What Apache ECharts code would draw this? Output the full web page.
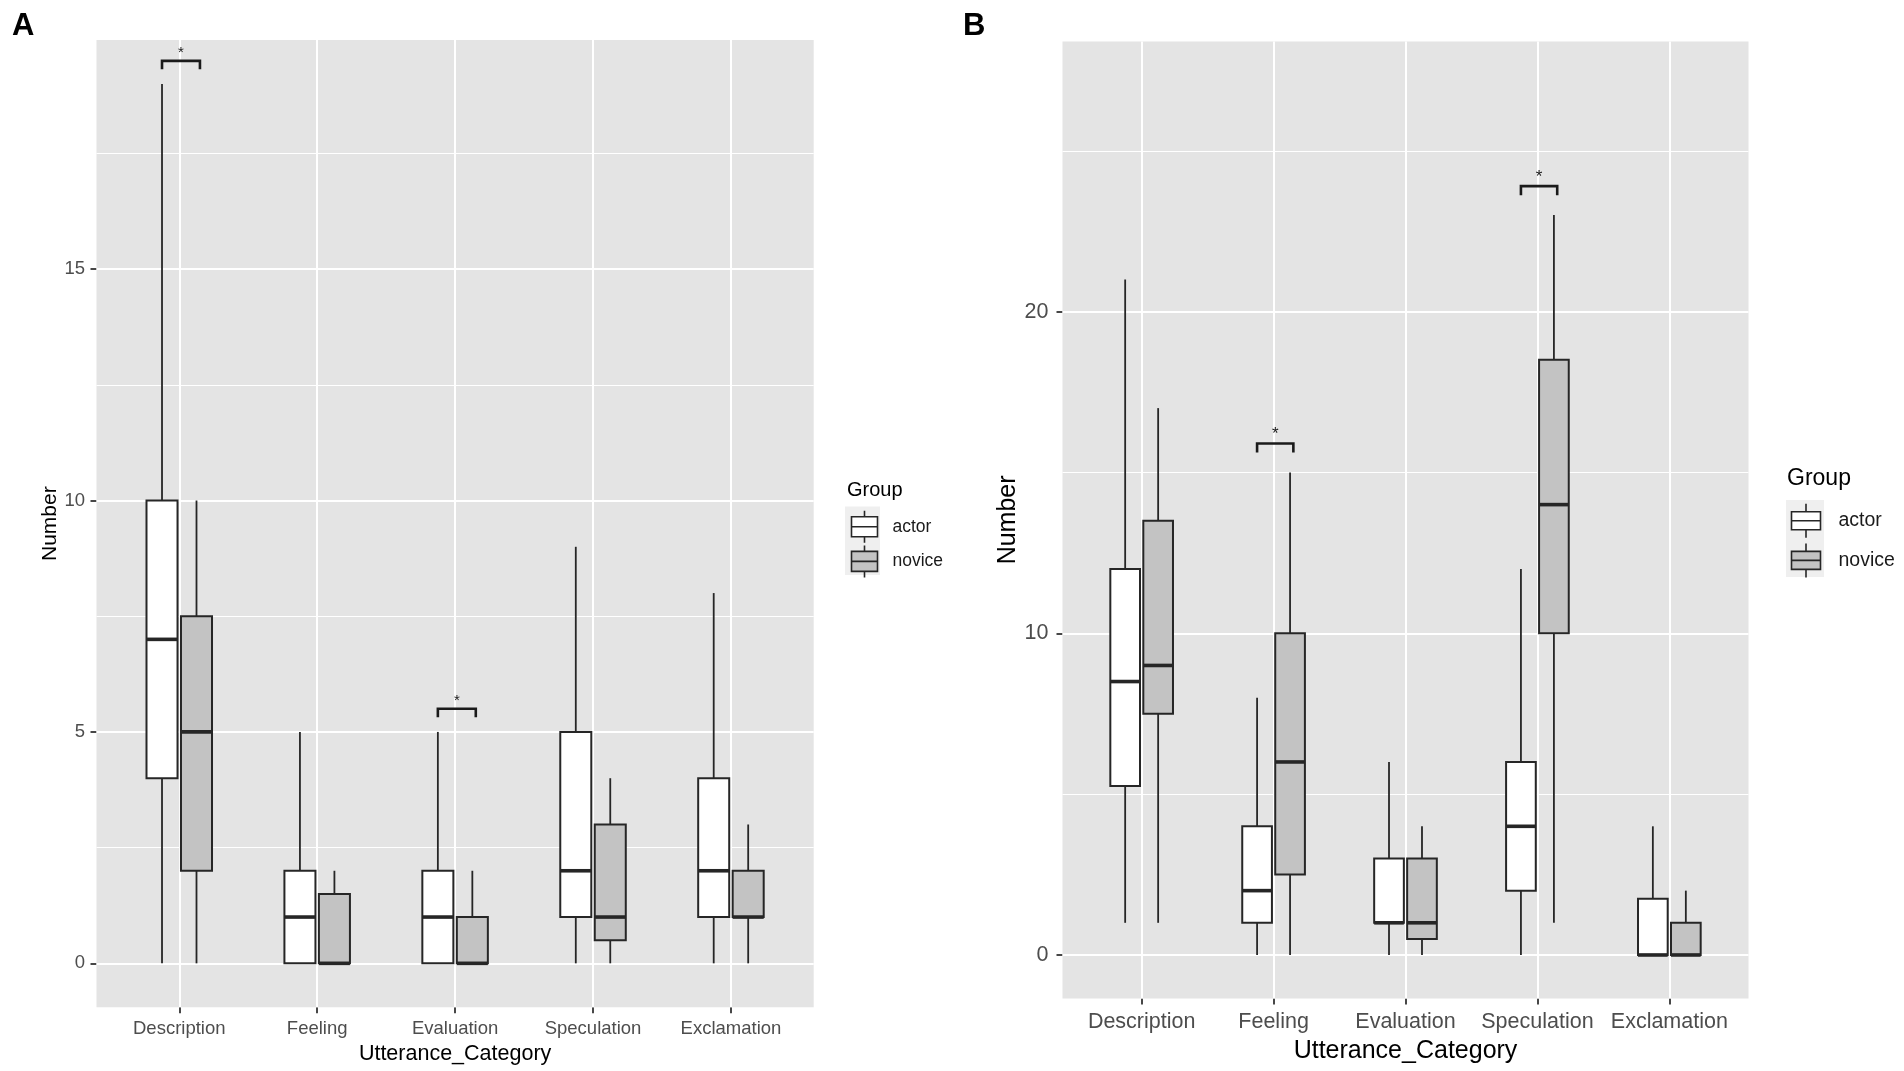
<!DOCTYPE html>
<html lang="en">
<head>
  <meta charset="UTF-8">
  <title>Utterance categories by group</title>
  <script src="https://cdn.jsdelivr.net/npm/echarts@6.0.0/dist/echarts.min.js"></script>
  <style>
    html, body { margin: 0; padding: 0; background: #fff; }
    #main { width: 1904px; height: 1071px; }
  </style>
</head>
<body>
<div id="main"></div>
<script>
// categories on the x axis (index 0..4)
const categories = ['Description', 'Feeling', 'Evaluation', 'Speculation', 'Exclamation'];
const groups = ['actor', 'novice'];

// each row: [category, whisker low, q1, median, q3, whisker high]
const actorA  = [[0, 0, 4, 7, 10, 19], [1, 0, 0, 1, 2, 5], [2, 0, 0, 1, 2, 5], [3, 0, 1, 2, 5, 9], [4, 0, 1, 2, 4, 8]];
const noviceA = [[0, 0, 2, 5, 7.5, 10], [1, 0, 0, 0, 1.5, 2], [2, 0, 0, 0, 1, 2], [3, 0, 0.5, 1, 3, 4], [4, 0, 1, 1, 2, 3]];
const actorB  = [[0, 1, 5.25, 8.5, 12, 21], [1, 0, 1, 2, 4, 8], [2, 0, 1, 1, 3, 6], [3, 0, 2, 4, 6, 12], [4, 0, 0, 0, 1.75, 4]];
const noviceB = [[0, 1, 7.5, 9, 13.5, 17], [1, 0, 2.5, 6, 10, 15], [2, 0, 0.5, 1, 3, 4], [3, 1, 10, 14, 18.5, 23], [4, 0, 0, 0, 1, 2]];

// significance brackets: [category, height]
const signifA = [[0, 19.5], [2, 5.5]];
const signifB = [[1, 15.9], [3, 23.9]];

// tick labels / grid lines
const catTicks = [0, 1, 2, 3, 4];
const yTicksA = [0, 5, 10, 15];
const yMinorA = [2.5, 7.5, 12.5, 17.5];
const yTicksB = [0, 10, 20];
const yMinorB = [5, 15, 25];

const FONT = '"Liberation Sans", Arial, sans-serif';
const INK = '#262626';
const FILLS = ['#ffffff', '#c3c3c3'];
const BOX_W = 0.225;
const DODGE = 0.125;
const SIG_L = -0.125, SIG_R = 0.15;

function boxRender(offset, fill) {
  return function (params, api) {
    const x = api.value(0) + offset;
    const p = [1, 2, 3, 4, 5].map(i => api.coord([x, api.value(i)]));
    const half = api.size([BOX_W, 0])[0] / 2;
    const cx = p[0][0];
    return {
      type: 'group',
      children: [
        { type: 'line', shape: { x1: cx, y1: p[0][1], x2: cx, y2: p[1][1] }, style: { stroke: INK, lineWidth: 1.8 } },
        { type: 'line', shape: { x1: cx, y1: p[3][1], x2: cx, y2: p[4][1] }, style: { stroke: INK, lineWidth: 1.8 } },
        { type: 'rect', shape: { x: cx - half, y: p[3][1], width: half * 2, height: p[1][1] - p[3][1] },
          style: { fill: fill, stroke: INK, lineWidth: 2 } },
        { type: 'line', shape: { x1: cx - half, y1: p[2][1], x2: cx + half, y2: p[2][1] }, style: { stroke: INK, lineWidth: 3.6 } }
      ]
    };
  };
}

function bracketRender(tickPx, starSize, starLift) {
  return function (params, api) {
    const c = api.value(0), y = api.value(1);
    const l = api.coord([c + SIG_L, y]);
    const r = api.coord([c + SIG_R, y]);
    return {
      type: 'group',
      children: [
        { type: 'polyline',
          shape: { points: [[l[0], l[1] + tickPx], [l[0], l[1]], [r[0], r[1]], [r[0], r[1] + tickPx]] },
          style: { stroke: '#1a1a1a', lineWidth: 2.6, fill: 'none' } },
        { type: 'text',
          style: { text: '*', x: (l[0] + r[0]) / 2, y: l[1] - starLift, align: 'center', verticalAlign: 'middle',
                   fontSize: starSize, fontFamily: FONT, fill: '#1a1a1a' } }
      ]
    };
  };
}

function gridLines(major, minor) {
  const white = w => ({ color: '#ffffff', width: w, type: 'solid' });
  return {
    silent: true, symbol: 'none', z: 1, animation: false,
    label: { show: false },
    emphasis: { disabled: true },
    data: [].concat(
      major.map(v => ({ yAxis: v, lineStyle: white(2) })),
      minor.map(v => ({ yAxis: v, lineStyle: white(1) })),
      catTicks.map(v => ({ xAxis: v, lineStyle: white(2) }))
    )
  };
}

function xAxisFor(gi, fontSize, margin, nameSize, nameGap) {
  return {
    type: 'value', gridIndex: gi, min: -0.6, max: 4.6,
    name: 'Utterance_Category', nameLocation: 'middle', nameGap: nameGap,
    nameTextStyle: { fontSize: nameSize, color: '#000', fontFamily: FONT },
    axisLine: { show: false, onZero: false },
    splitLine: { show: false },
    axisTick: { show: true, customValues: catTicks, length: 6, lineStyle: { color: '#333', width: 1.8 } },
    axisLabel: { customValues: catTicks, formatter: v => categories[Math.round(v)], fontSize: fontSize,
                 color: '#4d4d4d', margin: margin, fontFamily: FONT }
  };
}

function yAxisFor(gi, min, max, ticks, fontSize, margin, nameSize, nameGap) {
  return {
    type: 'value', gridIndex: gi, min: min, max: max,
    name: 'Number', nameLocation: 'middle', nameGap: nameGap, nameRotate: 90,
    nameTextStyle: { fontSize: nameSize, color: '#000', fontFamily: FONT },
    axisLine: { show: false, onZero: false },
    splitLine: { show: false },
    axisTick: { show: true, customValues: ticks, length: 6, lineStyle: { color: '#333', width: 1.8 } },
    axisLabel: { customValues: ticks, fontSize: fontSize, color: '#4d4d4d', margin: margin, fontFamily: FONT }
  };
}

function boxSeries(name, data, gi, offset, fill, marks) {
  const s = {
    name: name, type: 'custom', xAxisIndex: gi, yAxisIndex: gi, z: 3,
    renderItem: boxRender(offset, fill),
    encode: { x: 0, y: [1, 2, 3, 4, 5] },
    data: data, silent: true
  };
  if (marks) s.markLine = marks;
  return s;
}

function sigSeries(data, gi, tickPx, starSize, starLift) {
  return {
    type: 'custom', xAxisIndex: gi, yAxisIndex: gi, z: 4, silent: true,
    renderItem: bracketRender(tickPx, starSize, starLift),
    encode: { x: 0, y: 1 },
    data: data
  };
}

const ICON_A = 'path://M13,0L13,6M0,6L26,6L26,26L0,26ZM0,16L26,16M13,26L13,32';
const ICON_B = 'path://M14.5,0L14.5,8M0,8L29,8L29,26L0,26ZM0,17L29,17M14.5,26L14.5,34';

function legendFor(left, top, icon, w, h, gap, fontSize, pad) {
  return {
    orient: 'vertical', left: left, top: top, padding: 0,
    itemWidth: w, itemHeight: h, itemGap: gap, selectedMode: false,
    data: groups.map((g, i) => ({
      name: g, icon: icon,
      itemStyle: { color: FILLS[i], borderColor: INK, borderWidth: 1.6 }
    })),
    textStyle: { fontSize: fontSize, color: '#1a1a1a', fontFamily: FONT, padding: [0, 0, 0, pad] }
  };
}

const chart = echarts.init(document.getElementById('main'));

chart.setOption({
  animation: false,
  backgroundColor: '#ffffff',
  title: [
    { text: 'A', left: 12, top: 11, padding: 0, textStyle: { fontSize: 31, fontWeight: 'bold', color: '#000', fontFamily: FONT } },
    { text: 'B', left: 963, top: 11, padding: 0, textStyle: { fontSize: 31, fontWeight: 'bold', color: '#000', fontFamily: FONT } },
    { text: 'Group', left: 847, top: 480, padding: 0, textStyle: { fontSize: 20, fontWeight: 'normal', color: '#000', fontFamily: FONT } },
    { text: 'Group', left: 1787, top: 467.5, padding: 0, textStyle: { fontSize: 23, fontWeight: 'normal', color: '#000', fontFamily: FONT } }
  ],
  graphic: [
    { type: 'rect', left: 845, top: 506.5, silent: true, shape: { width: 35, height: 68.5 }, style: { fill: '#efefef' } },
    { type: 'rect', left: 1786, top: 500, silent: true, shape: { width: 38, height: 77 }, style: { fill: '#efefef' } }
  ],
  legend: [
    legendFor(850.7, 510, ICON_A, 26, 32, 1, 17.5, 10),
    legendFor(1790.7, 503, ICON_B, 29, 34, 4, 19.5, 13)
  ],
  grid: [
    { left: 96.5, top: 40, width: 717.2, height: 967.3, show: true, backgroundColor: '#e4e4e4', borderWidth: 0 },
    { left: 1062.5, top: 41.4, width: 686, height: 957, show: true, backgroundColor: '#e4e4e4', borderWidth: 0 }
  ],
  xAxis: [
    xAxisFor(0, 18.5, 12, 21.5, 34),
    xAxisFor(1, 21.5, 13, 25, 37)
  ],
  yAxis: [
    yAxisFor(0, -0.95, 19.95, yTicksA, 18.5, 11.5, 21, 35),
    yAxisFor(1, -1.35, 28.4, yTicksB, 21.5, 14, 25, 41)
  ],
  series: [
    boxSeries('actor', actorA, 0, -DODGE, FILLS[0], gridLines(yTicksA, yMinorA)),
    boxSeries('novice', noviceA, 0, DODGE, FILLS[1]),
    sigSeries(signifA, 0, 8.5, 15, 8.3),
    boxSeries('actor', actorB, 1, -DODGE, FILLS[0], gridLines(yTicksB, yMinorB)),
    boxSeries('novice', noviceB, 1, DODGE, FILLS[1]),
    sigSeries(signifB, 1, 9, 17, 9)
  ]
});
</script>
</body>
</html>
